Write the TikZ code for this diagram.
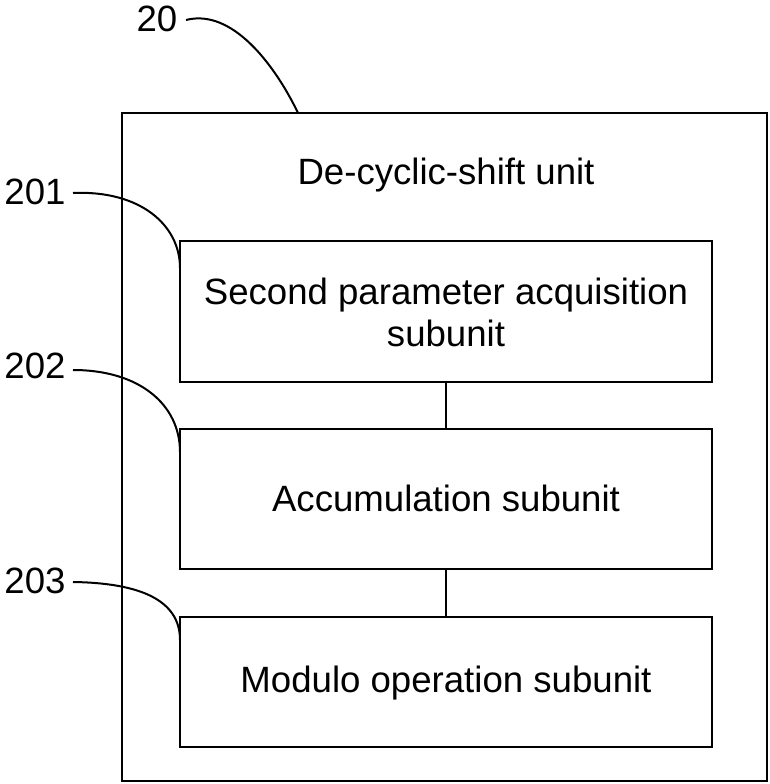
\documentclass[tikz,border=0pt]{standalone}
\usepackage{fontspec}
\setmainfont{Liberation Sans}
\begin{document}
\begin{tikzpicture}[x=1pt,y=-1pt,line width=2pt,
  txt/.style={font=\fontsize{36.6}{42}\selectfont,inner sep=0pt,align=center},
  unitbox/.style={draw,line width=2pt},
  leader/.style={line width=2pt}]
\useasboundingbox (0,0) rectangle (770,784);
% outer box
\draw[unitbox] (122,113) rectangle (767,781);
\coordinate (outerTop) at (298,113);
\node[txt] (title) at (446,175) {De-cyclic-shift unit};
% inner boxes
\draw[unitbox] (180,241) rectangle (712,382);
\draw[unitbox] (180,429) rectangle (712,569);
\draw[unitbox] (180,617) rectangle (712,747);
\node[txt] (b1) at (446,312) {Second parameter acquisition\\subunit};
\node[txt] (b2) at (446,498) {Accumulation subunit};
\node[txt] (b3) at (446,683) {Modulo operation subunit};
\coordinate (c1b) at (446,382);
\coordinate (c2t) at (446,429);
\coordinate (c2b) at (446,569);
\coordinate (c3t) at (446,617);
\draw (c1b) -- (c2t);
\draw (c2b) -- (c3t);
% labels
\node[txt] (l20) at (157,19) {20};
\node[txt] (l201) at (35,192) {201};
\node[txt] (l202) at (35,366) {202};
\node[txt] (l203) at (35,581) {203};
\coordinate (s20) at (186,20);
\coordinate (s201) at (73,193);
\coordinate (s202) at (73,370);
\coordinate (s203) at (73,582);
\coordinate (e201) at (180,268);
\coordinate (e202) at (180,452);
\coordinate (e203) at (180,640);
\draw[leader] (s20) .. controls (232,8) and (275,65) .. (outerTop);
\draw[leader] (s201) .. controls (140,190) and (180,225) .. (e201);
\draw[leader] (s202) .. controls (140,370) and (180,405) .. (e202);
\draw[leader] (s203) .. controls (140,583) and (180,600) .. (e203);
\end{tikzpicture}
\end{document}
